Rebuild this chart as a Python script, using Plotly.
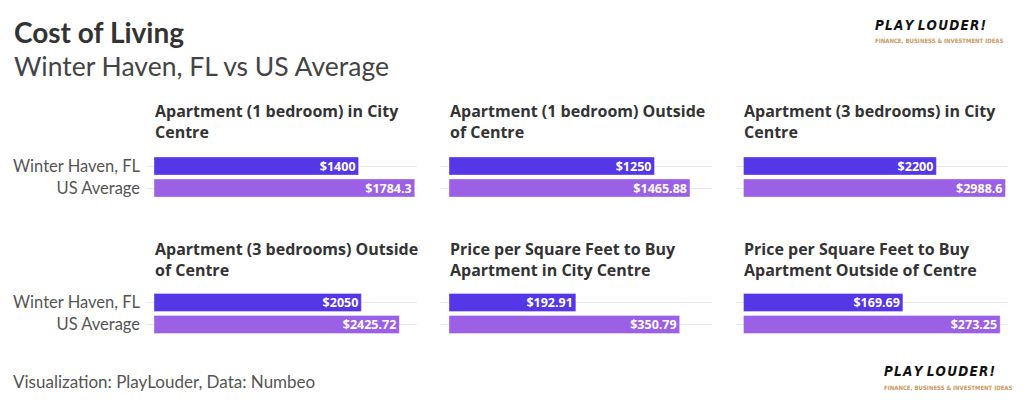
import plotly.graph_objects as go

# ---------------- data ----------------
categories = ["Winter Haven, FL", "US Average"]
panel_titles = [
    "Apartment (1 bedroom) in City<br>Centre",
    "Apartment (1 bedroom) Outside<br>of Centre",
    "Apartment (3 bedrooms) in City<br>Centre",
    "Apartment (3 bedrooms) Outside<br>of Centre",
    "Price per Square Feet to Buy<br>Apartment in City Centre",
    "Price per Square Feet to Buy<br>Apartment Outside of Centre",
]
winter_haven = [1400, 1250, 2200, 2050, 192.91, 169.69]
us_average = [1784.3, 1465.88, 2988.6, 2425.72, 350.79, 273.25]
axis_max = [1800, 1600, 3000, 2600, 400, 280]

# ---------------- layout constants ----------------
W, H = 1024, 409
FONT = "Lato"
TFONT = "Open Sans"
col_left = [154, 449, 743.5]
plot_w = 263
pad = 8
row_top = [155, 291.5]
row_h = 44
title_mid = [122, 259]
colors = ["#5537E8", "#9C60E6"]

fig = go.Figure()
annotations = []
layout_axes = {}

for i in range(6):
    r, c = divmod(i, 3)
    idx = "" if i == 0 else str(i + 1)
    xd = [(col_left[c] - pad) / W, (col_left[c] + plot_w) / W]
    yd = [1 - (row_top[r] + row_h) / H, 1 - row_top[r] / H]
    vals = [winter_haven[i], us_average[i]]
    fig.add_trace(go.Bar(
        y=categories, x=vals, orientation="h",
        xaxis="x" + idx, yaxis="y" + idx,
        marker=dict(color=colors, line=dict(color="rgba(255,255,255,0.35)", width=1)),
        text=[f"${v:g}" for v in vals],
        textposition="inside", insidetextanchor="end",
        textfont=dict(family=TFONT, size=12.5, color="white", weight="bold"),
        constraintext="none",
        showlegend=False, hoverinfo="skip",
    ))
    layout_axes["xaxis" + idx] = dict(
        domain=xd, range=[-axis_max[i] * pad / plot_w, axis_max[i]],
        visible=False, fixedrange=True, anchor="y" + idx,
    )
    layout_axes["yaxis" + idx] = dict(
        domain=yd, autorange="reversed", anchor="x" + idx,
        showgrid=True, gridcolor="#e8e8e8", gridwidth=1,
        zeroline=False, showline=False, ticks="",
        showticklabels=(c == 0), ticklabelstandoff=5,
        tickfont=dict(family=FONT, size=16.5, color="#555555"),
        fixedrange=True,
    )
    annotations.append(dict(
        text=panel_titles[i], x=(col_left[c] - 1.5) / W, y=1 - title_mid[r] / H,
        xref="paper", yref="paper", xanchor="left", yanchor="middle",
        align="left", showarrow=False,
        font=dict(family=TFONT, size=16, color="#333333", weight="bold"),
    ))

# titles
annotations += [
    dict(text="<b>Cost of Living</b>", x=12 / W, y=1 - 32 / H, xref="paper", yref="paper",
         xanchor="left", yanchor="middle", showarrow=False,
         font=dict(family=FONT, size=28, color="#333333")),
    dict(text="Winter Haven, FL vs US Average", x=12 / W, y=1 - 66 / H, xref="paper", yref="paper",
         xanchor="left", yanchor="middle", showarrow=False,
         font=dict(family=FONT, size=26.5, color="#444444")),
    dict(text="Visualization: PlayLouder, Data: Numbeo", x=11 / W, y=1 - 381 / H,
         xref="paper", yref="paper", xanchor="left", yanchor="middle", showarrow=False,
         font=dict(family=FONT, size=17, color="#555555")),
]

# logos
logo_main = "P\u200aL\u200aA\u200aY L\u200aO\u200aU\u200aD\u200aE\u200aR\u200a!"
logo_sub = "FINANCE, BUSINESS &amp; INVESTMENT IDEAS"
LFONT = "Liberation Sans Narrow, DejaVu Sans Condensed"
for lx, y1, y2 in [(873, 25, 41), (882, 371, 387)]:
    annotations.append(dict(text="<b><i>" + logo_main + "</i></b>", x=lx / W, y=1 - y1 / H,
                            xref="paper", yref="paper", xanchor="left", yanchor="middle",
                            showarrow=False,
                            font=dict(family=LFONT, size=13.5, color="#111111")))
    annotations.append(dict(text="<b>" + logo_sub + "</b>", x=lx / W, y=1 - y2 / H,
                            xref="paper", yref="paper", xanchor="left", yanchor="middle",
                            showarrow=False,
                            font=dict(family=LFONT, size=6, color="#C99A5E")))

fig.update_layout(
    width=W, height=H, margin=dict(l=0, r=0, t=0, b=0),
    paper_bgcolor="white", plot_bgcolor="white",
    bargap=0.18, annotations=annotations,
    font=dict(family=FONT),
    **layout_axes,
)

fig.write_html("out.html", config={"displayModeBar": False},
               post_script="document.body.style.margin='0';")
